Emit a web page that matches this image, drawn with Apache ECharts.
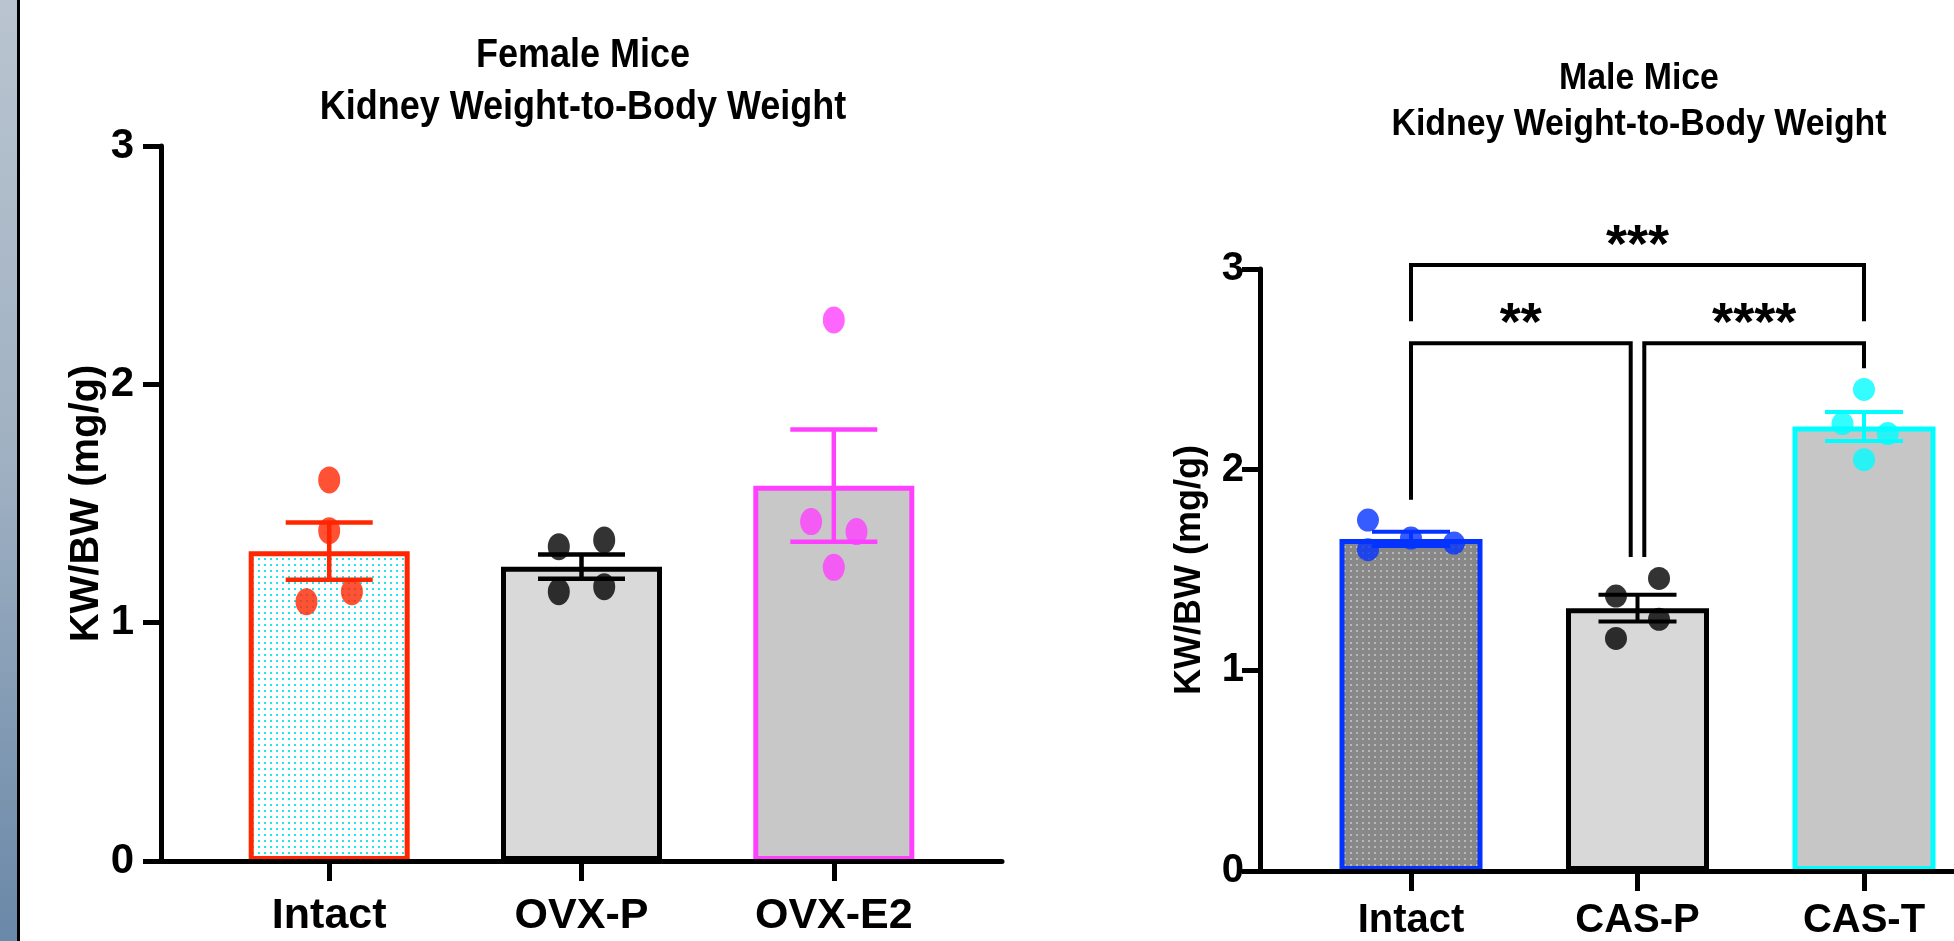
<!DOCTYPE html>
<html>
<head>
<meta charset="utf-8">
<style>
  html, body { margin:0; padding:0; background:#fff; }
  #edge { position:absolute; left:0; top:0; width:17px; height:941px;
          background:linear-gradient(to bottom,#b9c4cf 0%,#9fb0c2 50%,#6a88a8 100%); }
  #edgeLine { position:absolute; left:17px; top:0; width:3px; height:941px; background:#000; }
  #chart { position:absolute; left:0; top:0; width:1954px; height:941px; }
</style>
<script src="https://cdn.jsdelivr.net/npm/echarts@6/dist/echarts.min.js"></script>
</head>
<body>
<div id="edge"></div><div id="edgeLine"></div>
<div id="chart"></div>
<script>
// ---------------- data ----------------
const yTicks = [0, 1, 2, 3];

const femaleTitle = 'Female Mice\nKidney Weight-to-Body Weight';
const femaleCats = ['Intact', 'OVX-P', 'OVX-E2'];
const femaleMean = [1.30, 1.235, 1.575];
const femaleSem = [0.12, 0.051, 0.235];
const femalePoints = [
  [1.599, 1.386, 1.088, 1.130],
  [1.319, 1.347, 1.130, 1.151],
  [2.270, 1.424, 1.382, 1.232]
];
const femaleJitter = [
  [0, 0, -0.09, 0.09],
  [-0.09, 0.09, -0.09, 0.09],
  [0, -0.09, 0.09, 0]
];

const maleTitle = 'Male Mice\nKidney Weight-to-Body Weight';
const maleCats = ['Intact', 'CAS-P', 'CAS-T'];
const maleMean = [1.655, 1.31, 2.215];
const maleSem = [0.035, 0.067, 0.072];
const malePoints = [
  [1.749, 1.601, 1.659, 1.634],
  [1.458, 1.370, 1.254, 1.159],
  [2.400, 2.230, 2.180, 2.050]
];
const maleJitter = [
  [-0.19, -0.19, 0, 0.19],
  [0.095, -0.095, 0.095, -0.095],
  [0, -0.095, 0.105, 0]
];

// significance brackets (male panel)
const bracketFrom = [0, 1.03, 0];
const bracketTo = [0.97, 2, 2];
const bracketTop = [2.63, 2.63, 3.02];
const bracketLeftEnd = [1.85, 1.565, 2.74];
const bracketRightEnd = [1.565, 2.505, 2.74];
const bracketLabels = ['**', '****', '***'];

// ---------------- styles ----------------
const FB = '"Liberation Sans",Arial,Helvetica,sans-serif';

function dotPattern(bg, dot, size, dotSize) {
  const c = document.createElement('canvas');
  c.width = size; c.height = size;
  const ctx = c.getContext('2d');
  ctx.fillStyle = bg; ctx.fillRect(0, 0, size, size);
  ctx.fillStyle = dot; ctx.fillRect(0, 0, dotSize, dotSize);
  return { image: c, repeat: 'repeat' };
}

const femaleStyle = {
  fills: [dotPattern('#ffffff', '#1fe6f0', 6, 2), '#d9d9d9', '#c8c8c8'],
  borders: ['#ff2600', '#000000', '#ff40ff'],
  grid: { left: 161, right: 952, top: 146, bottom: 80 },
  barWidth: 161, capW: 87, errW: 4.5, sym: [22, 27],
  labelSize: 43, labelMargin: 34, tickLabelSize: 42, tickLabelMargin: 27,
  nameSize: 40, nameGap: 54
};
const maleStyle = {
  fills: [dotPattern('#888888', '#b8b8b8', 6, 2), '#d8d8d8', '#c6c6c6'],
  borders: ['#0433ff', '#000000', '#00fdff'],
  grid: { left: 1260, right: -61, top: 269, bottom: 70 },
  barWidth: 143, capW: 78, errW: 4, sym: [22, 23],
  labelSize: 40, labelMargin: 30, tickLabelSize: 40, tickLabelMargin: 16,
  nameSize: 36, nameGap: 52
};

function axes(i, cats, st) {
  const x = {
    type: 'value', gridIndex: i, min: -2 / 3, max: 8 / 3, z: 10,
    splitLine: { show: false },
    axisLine: { show: true, onZero: false, lineStyle: { color: '#000', width: 5 } },
    axisTick: { show: true, customValues: [0, 1, 2], length: 20, lineStyle: { color: '#000', width: 5 } },
    axisLabel: {
      customValues: [0, 1, 2], formatter: v => cats[Math.round(v)] || '',
      color: '#000', fontFamily: FB, fontWeight: 'bold', fontSize: st.labelSize, margin: st.labelMargin
    }
  };
  const y = {
    type: 'value', gridIndex: i, min: 0, max: 3, interval: 1, z: 10,
    splitLine: { show: false },
    axisLine: { show: true, onZero: false, lineStyle: { color: '#000', width: 5 } },
    axisTick: { show: true, length: 18, lineStyle: { color: '#000', width: 5 } },
    axisLabel: {
      color: '#000', fontFamily: FB, fontWeight: 'bold', fontSize: st.tickLabelSize, margin: st.tickLabelMargin,
      formatter: v => (yTicks.indexOf(v) >= 0 ? String(v) : '')
    },
    name: 'KW/BW (mg/g)', nameLocation: 'middle', nameGap: st.nameGap,
    nameTextStyle: { fontFamily: FB, fontWeight: 'bold', fontSize: st.nameSize, color: '#000' }
  };
  return { x, y };
}

function panelSeries(i, cats, mean, sem, pts, jit, st) {
  const bar = {
    type: 'bar', xAxisIndex: i, yAxisIndex: i, barWidth: st.barWidth, z: 2,
    data: cats.map((c, k) => ({
      value: [k, mean[k]],
      itemStyle: { color: st.fills[k], borderColor: st.borders[k], borderWidth: 5 }
    }))
  };
  const err = {
    type: 'custom', xAxisIndex: i, yAxisIndex: i, z: 3,
    encode: { x: 0, y: 1 },
    data: mean.map((m, k) => [k, m, sem[k]]),
    renderItem: function (params, api) {
      const xv = api.value(0), m = api.value(1), s = api.value(2);
      const t = api.coord([xv, m + s]), b = api.coord([xv, m - s]);
      const col = st.borders[params.dataIndex];
      const hw = st.capW / 2;
      const ls = { stroke: col, lineWidth: st.errW };
      return {
        type: 'group', children: [
          { type: 'line', shape: { x1: t[0], y1: t[1], x2: b[0], y2: b[1] }, style: ls },
          { type: 'line', shape: { x1: t[0] - hw, y1: t[1], x2: t[0] + hw, y2: t[1] }, style: ls },
          { type: 'line', shape: { x1: b[0] - hw, y1: b[1], x2: b[0] + hw, y2: b[1] }, style: ls }
        ]
      };
    }
  };
  const scatterData = [];
  pts.forEach((grp, k) => grp.forEach((v, j) => {
    scatterData.push({ value: [k + jit[k][j], v], itemStyle: { color: st.borders[k] } });
  }));
  const sc = {
    type: 'scatter', xAxisIndex: i, yAxisIndex: i, z: 4,
    symbol: 'circle', symbolSize: st.sym, data: scatterData
  };
  return [bar, err, sc];
}

const fa = axes(0, femaleCats, femaleStyle);
const ma = axes(1, maleCats, maleStyle);

const brackets = {
  type: 'custom', xAxisIndex: 1, yAxisIndex: 1, z: 5, clip: false,
  encode: { x: 0, y: 2 },
  data: bracketFrom.map((f, k) => [f, bracketTo[k], bracketTop[k], bracketLeftEnd[k], bracketRightEnd[k]]),
  renderItem: function (params, api) {
    const x1 = api.value(0), x2 = api.value(1), yt = api.value(2), yl = api.value(3), yr = api.value(4);
    const a = api.coord([x1, yl]), b = api.coord([x1, yt]), c = api.coord([x2, yt]), d = api.coord([x2, yr]);
    return {
      type: 'group', children: [
        { type: 'polyline', shape: { points: [a, b, c, d] }, style: { stroke: '#000', lineWidth: 4, fill: null } },
        { type: 'text', style: {
            text: bracketLabels[params.dataIndex], x: (b[0] + c[0]) / 2, y: b[1] - 18,
            align: 'center', verticalAlign: 'middle', fill: '#000',
            fontFamily: FB, fontWeight: 'bold', fontSize: 54 } }
      ]
    };
  }
};

const option = {
  animation: false,
  backgroundColor: 'transparent',
  graphic: [
    { type: 'text', x: 583, y: 30, scaleX: 0.878,
      style: { text: femaleTitle, align: 'center', verticalAlign: 'top', fill: '#000',
               fontFamily: FB, fontWeight: 'bold', fontSize: 41, lineHeight: 52 } },
    { type: 'text', x: 1639, y: 56.5, scaleX: 0.94,
      style: { text: maleTitle, align: 'center', verticalAlign: 'top', fill: '#000',
               fontFamily: FB, fontWeight: 'bold', fontSize: 36, lineHeight: 45.5 } }
  ],
  grid: [
    Object.assign({ containLabel: false, outerBoundsMode: 'none' }, femaleStyle.grid),
    Object.assign({ containLabel: false, outerBoundsMode: 'none' }, maleStyle.grid)
  ],
  xAxis: [fa.x, ma.x],
  yAxis: [fa.y, ma.y],
  series: []
    .concat(panelSeries(0, femaleCats, femaleMean, femaleSem, femalePoints, femaleJitter, femaleStyle))
    .concat(panelSeries(1, maleCats, maleMean, maleSem, malePoints, maleJitter, maleStyle))
    .concat([brackets])
};

const chart = echarts.init(document.getElementById('chart'), null, { renderer: 'canvas' });
chart.setOption(option);
</script>
</body>
</html>
